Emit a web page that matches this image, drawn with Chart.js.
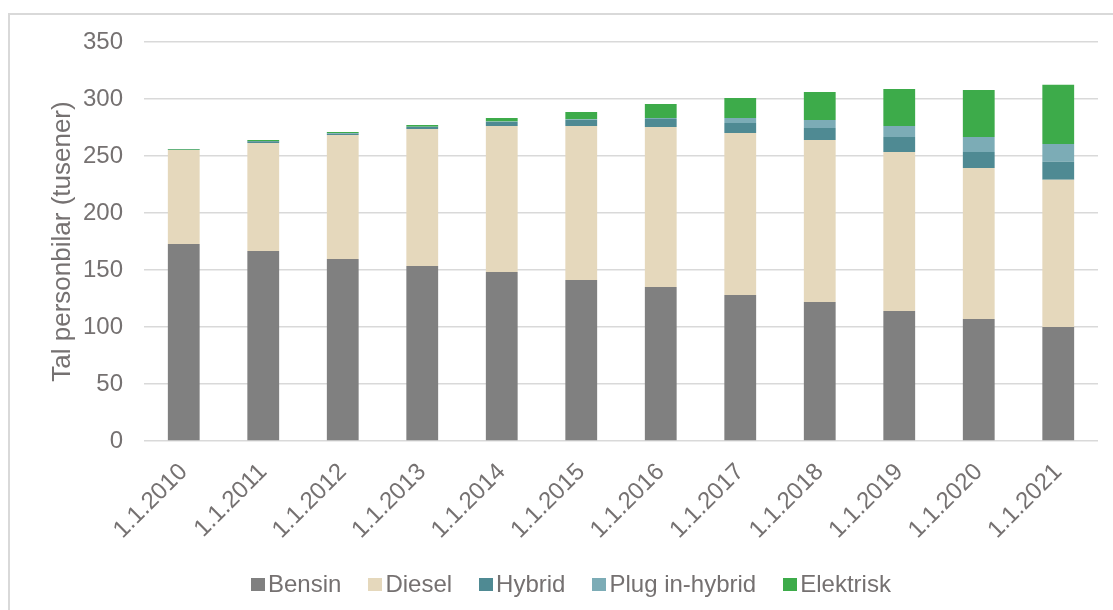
<!DOCTYPE html>
<html>
<head>
<meta charset="utf-8">
<script src="https://cdn.jsdelivr.net/npm/chart.js@4"></script>
<style>
  body { margin: 0; background: #fff; font-family: "Liberation Sans", Arial, sans-serif; }
  #wrap { position: relative; width: 1113px; height: 610px; overflow: hidden; }
  #frame { position: absolute; left: 8px; top: 13px; width: 1200px; height: 700px; border: 2px solid #d9d9d9; }
  #c { position: absolute; left: 0; top: 0; }
  #legend { position: absolute; left: 251px; top: 570px; display: flex; align-items: center; gap: 27px;
            font-size: 24px; color: #757171; white-space: nowrap; }
  #legend span.box { display: inline-block; width: 14px; height: 13px; margin-right: 3px; vertical-align: middle; }
  #legend div { display: flex; align-items: center; }
</style>
</head>
<body>
<div id="wrap">
  <div id="frame"></div>
  <canvas id="c" width="1113" height="610"></canvas>
  <div id="legend"></div>
</div>
<script>
// === Data ===
const years = ['1.1.2010', '1.1.2011', '1.1.2012', '1.1.2013', '1.1.2014', '1.1.2015',
               '1.1.2016', '1.1.2017', '1.1.2018', '1.1.2019', '1.1.2020', '1.1.2021'];
const bensin    = [172.8, 166.7, 159.6, 153.5, 148.2, 141.2, 135.1, 128.1, 121.9, 114.0, 107.0, 100.0];
const diesel    = [82.5, 94.7, 108.8, 120.2, 128.1, 135.1, 140.3, 142.1, 142.1, 139.5, 132.5, 129.2];
const hybrid    = [0.2, 1.5, 1.2, 1.7, 3.5, 5.3, 7.1, 8.8, 10.6, 13.2, 14.0, 15.7];
const plugin    = [0.0, 0.1, 0.5, 0.3, 0.5, 0.7, 0.8, 4.3, 7.0, 9.6, 13.2, 15.6];
const elektrisk = [0.6, 1.0, 1.0, 1.6, 3.0, 6.3, 12.3, 17.6, 24.5, 32.5, 41.2, 52.0];
const yTicks = [0, 50, 100, 150, 200, 250, 300, 350];

const seriesNames  = ['Bensin', 'Diesel', 'Hybrid', 'Plug in-hybrid', 'Elektrisk'];
const seriesColors = ['#808080', '#e5d8bc', '#4f8a93', '#7cacb6', '#3dab4a'];
const seriesData   = [bensin, diesel, hybrid, plugin, elektrisk];

const textColor = '#757171';
const font = { family: '"Liberation Sans", Arial, sans-serif', size: 24 };

// === Chart ===
const ctx = document.getElementById('c').getContext('2d');
const chart = new Chart(ctx, {
  type: 'bar',
  data: {
    labels: years,
    datasets: seriesNames.map((name, i) => ({
      label: name,
      data: seriesData[i],
      backgroundColor: seriesColors[i],
      borderWidth: 0,
      barPercentage: 0.4,
      categoryPercentage: 1
    }))
  },
  options: {
    responsive: false,
    animation: false,
    layout: { padding: { left: 0, right: 15, top: 42, bottom: 0 } },
    plugins: { legend: { display: false }, tooltip: { enabled: false } },
    scales: {
      x: {
        stacked: true,
        grid: { display: false },
        border: { display: false },
        ticks: { color: textColor, font: font, minRotation: 45, maxRotation: 45, autoSkip: false, padding: 9 },
        afterFit: s => { s.height = 169; }
      },
      y: {
        stacked: true,
        min: 0,
        max: 350,
        afterBuildTicks: s => { s.ticks = yTicks.map(v => ({ value: v })); },
        grid: { color: '#d9d9d9', lineWidth: 1.5, drawTicks: false },
        border: { display: false },
        ticks: { color: textColor, font: font, padding: 21 },
        title: {
          display: true,
          text: 'Tal personbilar (tusener)',
          color: textColor,
          font: { family: font.family, size: 26 },
          padding: { top: 47, bottom: 0 }
        },
        afterFit: s => { s.width = 144; }
      }
    }
  }
});

// Legend built from the same series
const legend = document.getElementById('legend');
seriesNames.forEach((name, i) => {
  const item = document.createElement('div');
  item.innerHTML = '<span class="box" style="background:' + seriesColors[i] + '"></span>' + name;
  legend.appendChild(item);
});
</script>
</body>
</html>
